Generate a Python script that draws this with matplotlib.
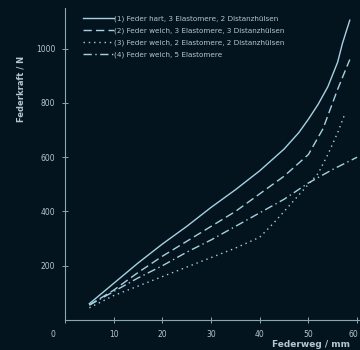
import numpy as np
import matplotlib
matplotlib.use("Agg")
import matplotlib.pyplot as plt
import matplotlib.transforms as mtransforms

# Data
x1 = [5, 10, 15, 20, 25, 30, 35, 40, 45, 48, 50, 52, 54, 56, 57, 58.5]
y1 = [60, 135, 210, 280, 345, 415, 480, 550, 630, 690, 740, 795, 860, 950, 1020, 1105]
x2 = [5, 10, 15, 20, 25, 30, 35, 40, 45, 50, 53, 56, 58.5]
y2 = [55, 110, 175, 235, 290, 345, 400, 465, 530, 610, 705, 850, 960]
x3 = [5, 10, 15, 20, 25, 30, 35, 40, 43, 46, 49, 52, 54, 56, 57.5]
y3 = [45, 90, 125, 160, 195, 230, 265, 305, 360, 420, 480, 540, 610, 690, 760]
x4 = [5, 10, 15, 20, 25, 30, 35, 40, 45, 50, 55, 60]
y4 = [55, 105, 155, 200, 250, 295, 345, 395, 445, 505, 555, 600]

labels = ["(1) Feder hart, 3 Elastomere, 2 Distanzhülsen",
          "(2) Feder weich, 3 Elastomere, 3 Distanzhülsen",
          "(3) Feder weich, 2 Elastomere, 2 Distanzhülsen",
          "(4) Feder weich, 5 Elastomere"]
xticks = [0, 10, 20, 30, 40, 50, 60]
yticks = [200, 400, 600, 800, 1000]

bg = "#04141f"
lc = "#a4d2e0"
ac = "#8aa6b2"
tc = "#b4c6ce"

fig = plt.figure(figsize=(3.6, 3.5), dpi=100, facecolor=bg)
ax = fig.add_axes([65/360, 30/350, 295/360, 312/350], facecolor=bg)

lw = 1.0
ax.plot(x1, y1, color=lc, lw=lw, ls="-", label=labels[0])
ax.plot(x2, y2, color=lc, lw=lw, ls=(0, (6, 3)), label=labels[1])
ax.plot(x3, y3, color=lc, lw=lw, ls=(0, (1, 2.8)), label=labels[2])
ax.plot(x4, y4, color=lc, lw=lw, ls=(0, (6, 2.5, 1, 2.5)), label=labels[3])

ax.set_xlim(0, 60.6)
ax.set_ylim(0, 1150)
ax.set_xticks(xticks)
ax.set_xticklabels([str(v) for v in xticks])
ax.set_yticks(yticks)
ax.set_yticklabels([str(v) for v in yticks])

for s in ["top", "right"]:
    ax.spines[s].set_visible(False)
for s in ["left", "bottom"]:
    ax.spines[s].set_color(ac)
    ax.spines[s].set_linewidth(0.8)
ax.tick_params(direction="inout", length=4, width=0.7, colors=ac,
               labelcolor=tc, labelsize=5.5, pad=5)
tls = ax.get_xticklabels()
tls[0].set_transform(tls[0].get_transform() +
                     mtransforms.ScaledTranslation(-12/100, 0, fig.dpi_scale_trans))
tls[-1].set_horizontalalignment("right")
tls[-1].set_transform(tls[-1].get_transform() +
                      mtransforms.ScaledTranslation(1/100, 0, fig.dpi_scale_trans))

ax.set_xlabel("Federweg / mm", color=tc, fontsize=6.5, fontweight="bold")
ax.xaxis.label.set_horizontalalignment("right")
ax.xaxis.label.set_verticalalignment("center")
ax.xaxis.set_label_coords(0.965, -0.077)
ax.set_ylabel("Federkraft / N", color=tc, fontsize=6, fontweight="bold")
ax.yaxis.set_label_coords(-0.135, 0.74)

leg = ax.legend(loc="upper left", bbox_to_anchor=(0.05, 0.985), frameon=False,
                fontsize=5.2, handlelength=4.3, handletextpad=0.1,
                labelspacing=0.75, borderaxespad=0)
for t in leg.get_texts():
    t.set_color(tc)

fig.savefig("out.png", dpi=100, facecolor=bg)
